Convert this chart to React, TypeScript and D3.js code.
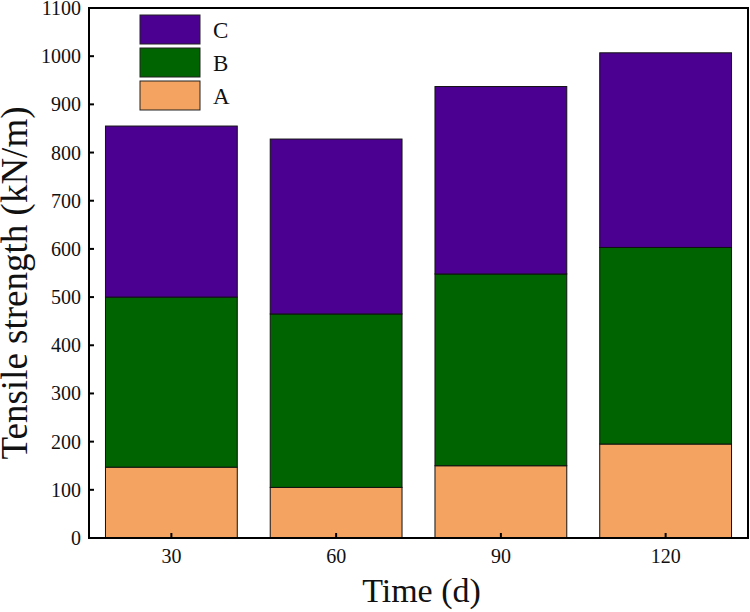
import React from "react";
import * as d3 from "d3";

const WIDTH = 750;
const HEIGHT = 612;
const MARGIN = { top: 8, right: 2, bottom: 74, left: 89 };

const categories = ["30", "60", "90", "120"];
const seriesKeys = ["A", "B", "C"];
const valuesA = [147, 105, 150, 195];
const valuesB = [353, 360, 398, 408];
const valuesC = [355, 363, 389, 404];
const yTicks = [0, 100, 200, 300, 400, 500, 600, 700, 800, 900, 1000, 1100];
const colors: Record<string, string> = { A: "#F4A460", B: "#006400", C: "#4B0092" };

const FONT = "'Liberation Serif', 'Times New Roman', serif";

const App = () => {
  const boundsWidth = WIDTH - MARGIN.left - MARGIN.right;
  const boundsHeight = HEIGHT - MARGIN.top - MARGIN.bottom;

  const rows = categories.map((c, i) => ({ cat: c, A: valuesA[i], B: valuesB[i], C: valuesC[i] }));
  const stacked = d3.stack<any>().keys(seriesKeys)(rows);

  const xScale = d3.scaleBand().domain(categories).range([0, boundsWidth]).paddingInner(0.2).paddingOuter(0.1);
  const yScale = d3.scaleLinear().domain([0, 1100]).range([boundsHeight, 0]);

  const rects = stacked.flatMap((layer) =>
    layer.map((d, i) => (
      <rect
        key={layer.key + i}
        x={xScale(categories[i])}
        y={yScale(d[1])}
        width={xScale.bandwidth()}
        height={yScale(d[0]) - yScale(d[1])}
        fill={colors[layer.key]}
        stroke="#111"
        strokeWidth={1}
      />
    ))
  );

  // legend, top entry is C
  const legendItems = [...seriesKeys].reverse();

  return (
    <div style={{ position: "absolute", left: 0, top: 0 }}>
      <svg width={WIDTH} height={HEIGHT} style={{ display: "block", background: "white" }}>
        <g transform={`translate(${MARGIN.left},${MARGIN.top})`} fontFamily={FONT}>
          {rects}

          {/* y ticks */}
          {yTicks.map((t) => (
            <g key={t} transform={`translate(0,${yScale(t)})`}>
              <line x1={0} x2={5} stroke="black" strokeWidth={2} />
              <text x={-8} dy="0.35em" textAnchor="end" fontSize={20} fill="#111">
                {t}
              </text>
            </g>
          ))}

          {/* x ticks */}
          {categories.map((c) => {
            const cx = (xScale(c) ?? 0) + xScale.bandwidth() / 2;
            return (
              <g key={c} transform={`translate(${cx},${boundsHeight})`}>
                <line y1={0} y2={-5} stroke="black" strokeWidth={2} />
                <text y={25} textAnchor="middle" fontSize={20} fill="#111">
                  {c}
                </text>
              </g>
            );
          })}

          {/* frame */}
          <rect x={0} y={0} width={boundsWidth} height={boundsHeight} fill="none" stroke="black" strokeWidth={2} />

          {/* legend */}
          {legendItems.map((k, i) => (
            <g key={k} transform={`translate(51,${7 + i * 33})`}>
              <rect width={60} height={29} fill={colors[k]} stroke="#222" strokeWidth={1} />
              <text x={73} y={15} dy="0.35em" fontSize={23} fill="#111">
                {k}
              </text>
            </g>
          ))}

          {/* axis titles */}
          <text
            x={boundsWidth / 2 + 3}
            y={boundsHeight + 64}
            textAnchor="middle"
            fontSize={34}
            fill="#111"
          >
            Time (d)
          </text>
          <text
            transform={`translate(${-62},${275}) rotate(-90)`}
            textAnchor="middle"
            fontSize={37}
            fill="#111"
          >
            Tensile strength (kN/m)
          </text>
        </g>
      </svg>
    </div>
  );
};

export default App;
